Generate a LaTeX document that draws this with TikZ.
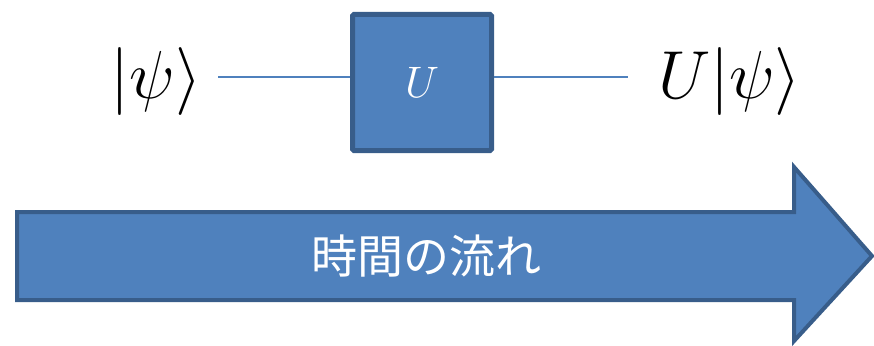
\documentclass[tikz,border=0pt]{standalone}
\usepackage{graphicx}
\usepackage{fontspec}
\newfontfamily\cjk{Noto Sans CJK JP}
\definecolor{fillblue}{HTML}{4F81BD}
\definecolor{edgeblue}{HTML}{385D8A}
\newcommand{\bigmath}[2]{\scalebox{#1}{\fontsize{17.28}{20}\selectfont$#2$}}
\begin{document}
\begin{tikzpicture}[x=1pt,y=-1pt,
  gatebox/.style={draw=edgeblue,fill=fillblue,line width=5pt,rounded corners=1.5pt},
  wire/.style={draw=fillblue,line width=1.4pt},
  bigket/.style={inner sep=0pt}]
\useasboundingbox (0,0) rectangle (874,345);
\node[gatebox,minimum width=139pt,minimum height=136pt,inner sep=0pt,
  text=white] (g) at (422,82.5) {\bigmath{2.55}{U}};
\node[bigket,anchor=base east] (in) at (202,98) {\bigmath{3.93}{|\psi\rangle}};
\node[bigket,anchor=base west] (out) at (658,98) {\bigmath{3.93}{U|\psi\rangle}};
\coordinate (inend) at (218,77);
\coordinate (outend) at (628,77);
\draw[wire] (inend) -- (g.west |- inend);
\draw[wire] (g.east |- outend) -- (outend);
\draw[edgeblue,fill=fillblue,line width=4pt,line join=miter,miter limit=10]
  (17,212) -- (794,212) -- (794,167) -- (872,256) -- (794,341) -- (794,300) -- (17,300) -- cycle;
\node[text=white,font=\cjk\fontsize{46}{52}\selectfont] (time) at (426,256) {時間の流れ};
\end{tikzpicture}
\end{document}
